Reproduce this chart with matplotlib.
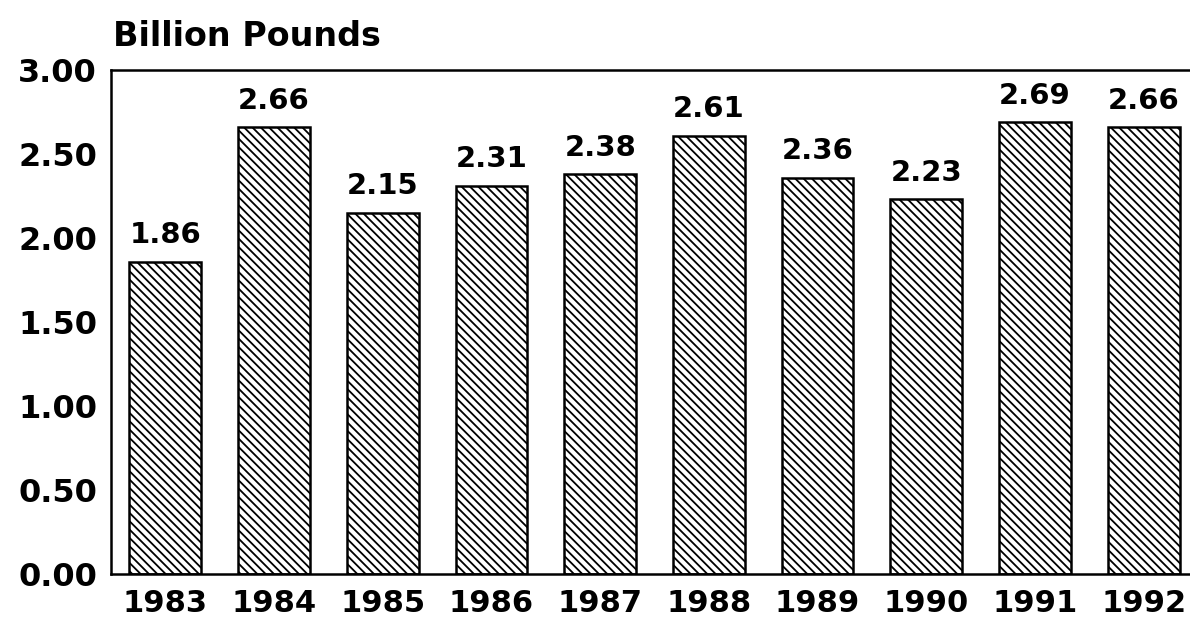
import matplotlib
matplotlib.use("Agg")
import matplotlib.pyplot as plt
import numpy as np

years = ["1983", "1984", "1985", "1986", "1987", "1988", "1989", "1990", "1991", "1992"]
values = [1.86, 2.66, 2.15, 2.31, 2.38, 2.61, 2.36, 2.23, 2.69, 2.66]
yticks = [0.0, 0.5, 1.0, 1.5, 2.0, 2.5, 3.0]

plt.rcParams['font.family'] = ['DejaVu Sans']
plt.rcParams['hatch.linewidth'] = 1.3
plt.rcParams['hatch.color'] = 'black'

fig = plt.figure(figsize=(11.9, 6.17), dpi=100)
# axes runs off the right edge of the figure, like the scanned original
ax = fig.add_axes([111 / 1190, 43 / 617, 1087 / 1190, 504 / 617])

x = np.arange(len(years))
back = chr(92)  # backslash hatch, repeated for a dense pattern
bars = ax.bar(x, values, width=0.66, color='white', edgecolor='black',
              linewidth=1.8, hatch=back * 4)

for xi, v in zip(x, values):
    ax.annotate(f"{v:.2f}", (xi, v), xytext=(0, 9), textcoords='offset points',
                ha='center', va='bottom', fontsize=21, fontweight='bold')

ax.set_xlim(-0.5, 9.5)
ax.set_ylim(0, 3.0)
ax.set_yticks(yticks)
ax.set_yticklabels([f"{t:.2f}" for t in yticks])
ax.set_xticks(x)
ax.set_xticklabels(years)
ax.tick_params(axis='y', length=0, pad=10, labelsize=23)
ax.tick_params(axis='x', length=0, pad=11, labelsize=22)
for lab in ax.get_xticklabels() + ax.get_yticklabels():
    lab.set_fontweight('heavy')

for s in ['left', 'bottom', 'top']:
    ax.spines[s].set_linewidth(1.8)
ax.spines['right'].set_visible(False)

fig.text(113 / 1190, 1 - 46 / 617, "Billion Pounds", fontsize=24,
         fontweight='heavy', ha='left', va='baseline')

fig.savefig("out.png", dpi=100)
